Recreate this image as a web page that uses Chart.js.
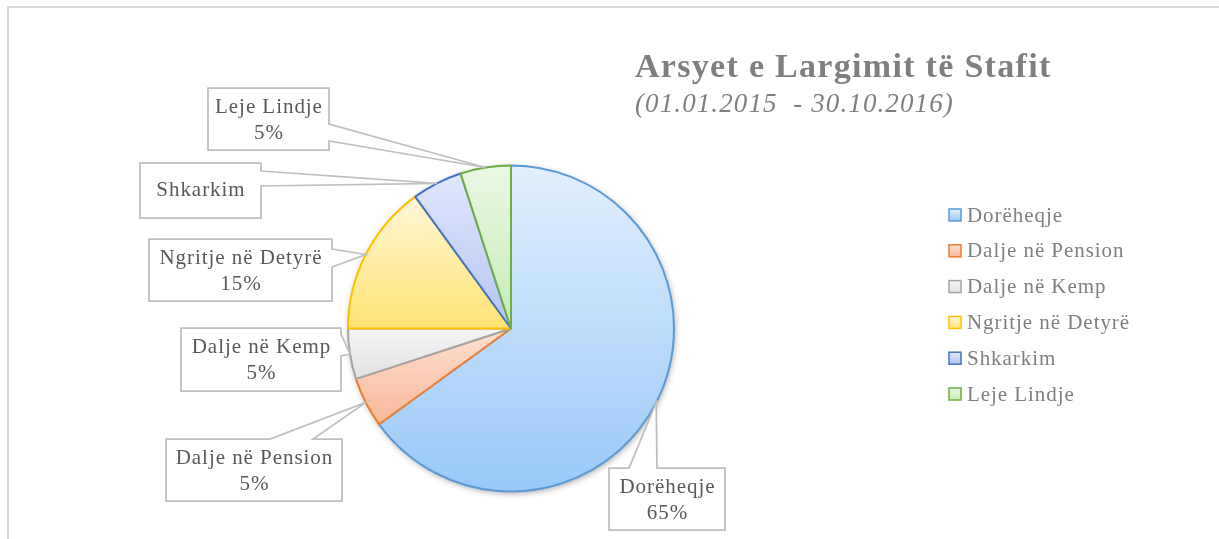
<!DOCTYPE html>
<html>
<head>
<meta charset="utf-8">
<script src="https://cdn.jsdelivr.net/npm/chart.js@4"></script>
<style>
  html, body { margin: 0; padding: 0; background: #ffffff; }
  #wrap { position: relative; width: 1219px; height: 539px; overflow: hidden; }
</style>
</head>
<body>
<div id="wrap"><canvas id="c" width="1219" height="539"></canvas></div>
<script>
// ---- data ----
const categories = ['Dorëheqje', 'Dalje në Pension', 'Dalje në Kemp', 'Ngritje në Detyrë', 'Shkarkim', 'Leje Lindje'];
const values = [65, 5, 5, 15, 5, 5];
const showPercent = [true, true, true, true, false, true];
const chartTitle = 'Arsyet e Largimit të Stafit';
const chartSubtitle = '(01.01.2015  - 30.10.2016)';

// ---- styles ----
const borderColors = ['#5b9bd5', '#ed7d31', '#a5a5a5', '#ffc000', '#4472c4', '#70ad47'];
const gradTop =    ['#e2f0fd', '#fde0d2', '#f5f5f5', '#fff7da', '#e0e7fb', '#e9f8e3'];
const gradBottom = ['#99c8f7', '#f8b898', '#e2e2e2', '#ffe372', '#b3c5f4', '#c6ecb7'];
const RADIUS = 163;
const SERIF = '"Liberation Serif", "DejaVu Serif", serif';

// callout layout: box rect, pointer edge and base range on that edge
const callouts = [
  { x: 609, y: 468, w: 116, h: 62, edge: 'top',   a: 629, b: 657 },
  { x: 166, y: 439, w: 176, h: 62, edge: 'top',   a: 270, b: 313 },
  { x: 181, y: 328, w: 160, h: 63, edge: 'right', a: 334, b: 356 },
  { x: 149, y: 239, w: 183, h: 62, edge: 'right', a: 249, b: 267 },
  { x: 140, y: 163, w: 121, h: 55, edge: 'right', a: 171, b: 186 },
  { x: 208, y: 88,  w: 121, h: 62, edge: 'right', a: 124, b: 141 }
];

function sliceGradient(context) {
  const chart = context.chart;
  const area = chart.chartArea;
  const i = context.dataIndex;
  if (!area) return gradBottom[i];
  const cx = (area.left + area.right) / 2;
  const cy = (area.top + area.bottom) / 2;
  const total = values.reduce((s, v) => s + v, 0);
  let cum = 0;
  for (let k = 0; k < i; k++) cum += values[k];
  const a0 = -Math.PI / 2 + 2 * Math.PI * cum / total;
  const a1 = -Math.PI / 2 + 2 * Math.PI * (cum + values[i]) / total;
  const ys = [cy, cy + RADIUS * Math.sin(a0), cy + RADIUS * Math.sin(a1)];
  if (a0 < Math.PI / 2 && a1 > Math.PI / 2) ys.push(cy + RADIUS);
  if (a0 <= -Math.PI / 2 || a1 >= 3 * Math.PI / 2) ys.push(cy - RADIUS);
  const y0 = Math.min(...ys), y1 = Math.max(...ys);
  const g = chart.ctx.createLinearGradient(0, y0, 0, y1 === y0 ? y0 + 1 : y1);
  g.addColorStop(0, gradTop[i]);
  g.addColorStop(1, gradBottom[i]);
  return g;
}

function spacedText(ctx, text, x, y, spacing, align) {
  // draws text with letter spacing, honouring alignment
  if ('letterSpacing' in ctx) {
    ctx.letterSpacing = spacing + 'px';
    const w = ctx.measureText(text).width - spacing;
    const saved = ctx.textAlign;
    ctx.textAlign = 'left';
    let sx = x;
    if (align === 'center') sx = x - w / 2;
    ctx.fillText(text, sx, y);
    ctx.textAlign = saved;
    ctx.letterSpacing = '0px';
  } else {
    ctx.textAlign = align;
    ctx.fillText(text, x, y);
  }
}

const decorPlugin = {
  id: 'decor',
  beforeDraw(chart) {
    const ctx = chart.ctx;
    ctx.save();
    ctx.strokeStyle = '#d9d9d9';
    ctx.lineWidth = 2;
    ctx.beginPath();
    ctx.moveTo(8, 600);
    ctx.lineTo(8, 7);
    ctx.lineTo(1300, 7);
    ctx.stroke();
    ctx.restore();
  },
  beforeDatasetsDraw(chart) {
    const ctx = chart.ctx;
    const arc = chart.getDatasetMeta(0).data[0];
    if (!arc) return;
    const p = arc.getProps(['x', 'y', 'outerRadius'], true);
    ctx.save();
    ctx.shadowColor = 'rgba(0,0,0,0.35)';
    ctx.shadowBlur = 6;
    ctx.shadowOffsetX = 1;
    ctx.shadowOffsetY = 2;
    ctx.fillStyle = '#ffffff';
    ctx.beginPath();
    ctx.arc(p.x, p.y, p.outerRadius, 0, Math.PI * 2);
    ctx.fill();
    ctx.restore();
  },
  afterDatasetsDraw(chart) {
    const ctx = chart.ctx;
    const meta = chart.getDatasetMeta(0);
    const total = values.reduce((s, v) => s + v, 0);

    // callouts
    meta.data.forEach((arc, i) => {
      const p = arc.getProps(['x', 'y', 'startAngle', 'endAngle', 'outerRadius'], true);
      const mid = (p.startAngle + p.endAngle) / 2;
      const tx = p.x + p.outerRadius * Math.cos(mid);
      const ty = p.y + p.outerRadius * Math.sin(mid);
      const c = callouts[i];
      ctx.save();
      ctx.beginPath();
      ctx.moveTo(c.x, c.y);
      if (c.edge === 'top') {
        ctx.lineTo(c.a, c.y);
        ctx.lineTo(tx, ty);
        ctx.lineTo(c.b, c.y);
      }
      ctx.lineTo(c.x + c.w, c.y);
      if (c.edge === 'right') {
        ctx.lineTo(c.x + c.w, c.a);
        ctx.lineTo(tx, ty);
        ctx.lineTo(c.x + c.w, c.b);
      }
      ctx.lineTo(c.x + c.w, c.y + c.h);
      ctx.lineTo(c.x, c.y + c.h);
      ctx.closePath();
      ctx.fillStyle = '#ffffff';
      ctx.fill();
      ctx.strokeStyle = '#bfbfbf';
      ctx.lineWidth = 1.75;
      ctx.lineJoin = 'miter';
      ctx.stroke();

      ctx.fillStyle = '#595959';
      ctx.font = '21px ' + SERIF;
      ctx.textBaseline = 'middle';
      const cxm = c.x + c.w / 2;
      const cym = c.y + c.h / 2;
      if (showPercent[i]) {
        const pct = Math.round(values[i] / total * 100) + '%';
        spacedText(ctx, categories[i], cxm, cym - 12, 0.95, 'center');
        spacedText(ctx, pct, cxm, cym + 14, 0.95, 'center');
      } else {
        spacedText(ctx, categories[i], cxm, cym, 0.95, 'center');
      }
      ctx.restore();
    });

    // title
    ctx.save();
    ctx.fillStyle = '#7f7f7f';
    ctx.textBaseline = 'alphabetic';
    ctx.font = 'bold 34px ' + SERIF;
    spacedText(ctx, chartTitle, 635, 77, 1.3, 'left');
    ctx.font = 'italic 27px ' + SERIF;
    spacedText(ctx, chartSubtitle, 635, 112, 1.1, 'left');
    ctx.restore();

    // legend
    ctx.save();
    categories.forEach((name, i) => {
      const yc = 215 + i * 35.8;
      const g = ctx.createLinearGradient(0, yc - 6, 0, yc + 6);
      g.addColorStop(0, gradTop[i]);
      g.addColorStop(1, gradBottom[i]);
      ctx.fillStyle = g;
      ctx.fillRect(949, yc - 6, 12, 12);
      ctx.strokeStyle = borderColors[i];
      ctx.lineWidth = 1.5;
      ctx.strokeRect(949, yc - 6, 12, 12);
      ctx.fillStyle = '#7f7f7f';
      ctx.font = '21px ' + SERIF;
      ctx.textBaseline = 'middle';
      spacedText(ctx, name, 967, yc + 1, 0.95, 'left');
    });
    ctx.restore();
  }
};

new Chart(document.getElementById('c'), {
  type: 'pie',
  data: {
    labels: categories,
    datasets: [{
      data: values,
      backgroundColor: sliceGradient,
      borderColor: borderColors,
      borderWidth: 2,
      hoverOffset: 0,
      offset: 0
    }]
  },
  options: {
    responsive: false,
    animation: false,
    devicePixelRatio: 1,
    radius: RADIUS,
    layout: { padding: { left: 348, right: 545, top: 166, bottom: 48 } },
    plugins: {
      legend: { display: false },
      title: { display: false },
      tooltip: { enabled: false }
    }
  },
  plugins: [decorPlugin]
});
</script>
</body>
</html>
